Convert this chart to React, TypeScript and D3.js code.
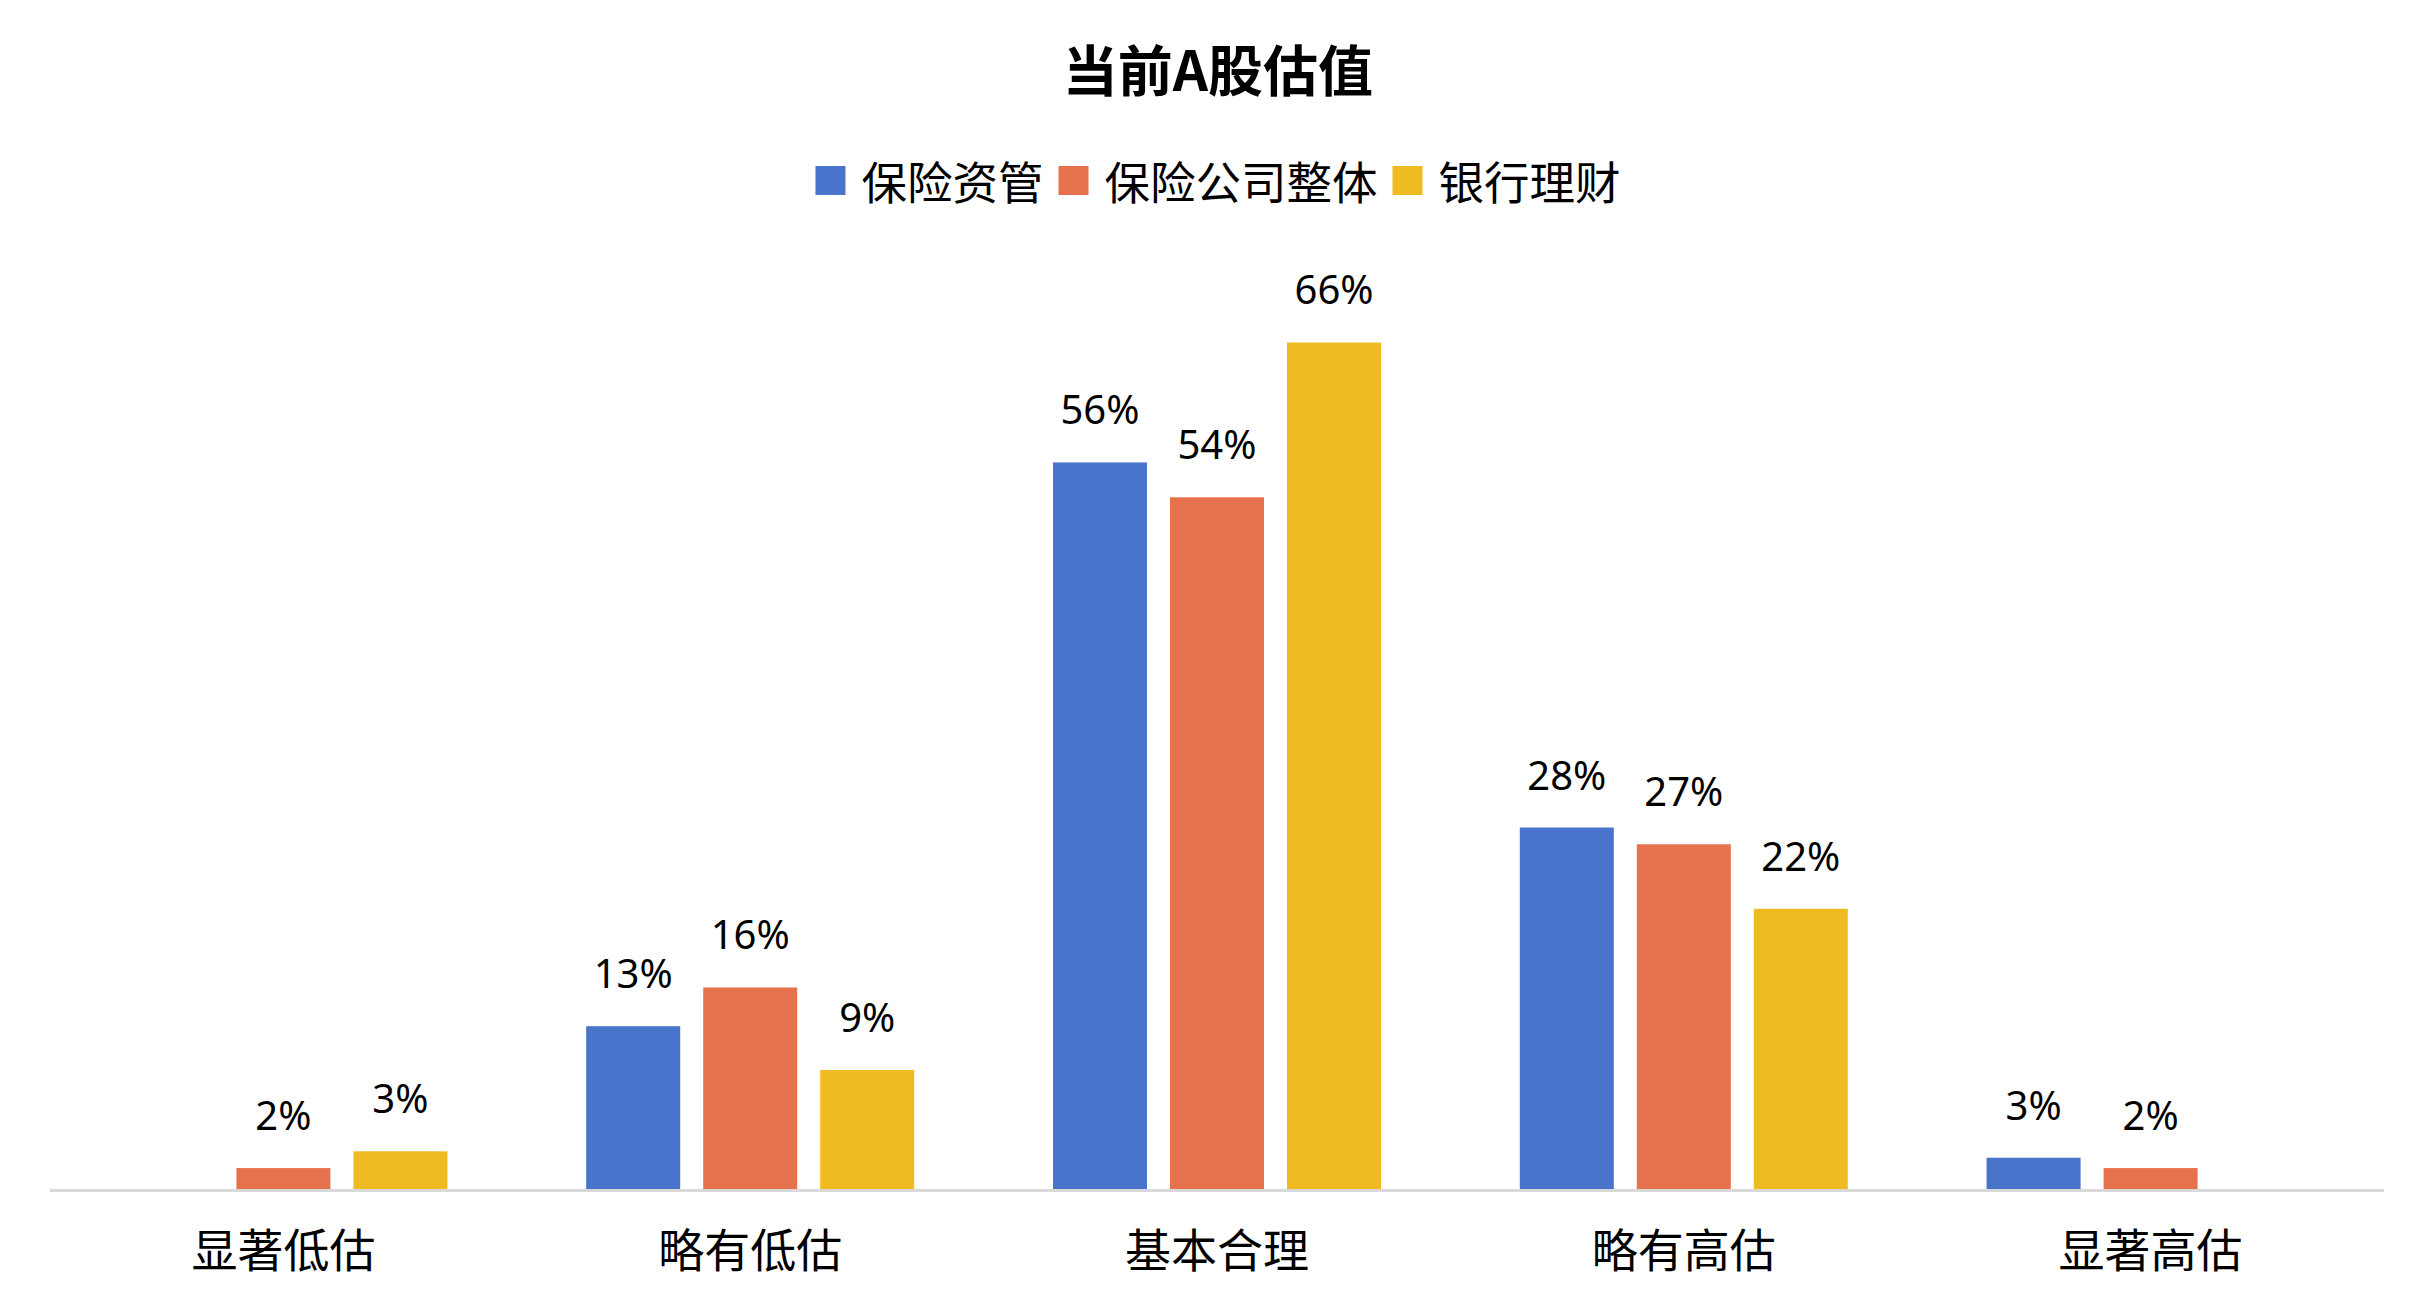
import { useRef, useEffect } from 'react';
import * as d3 from 'd3';

const categories = ['显著低估', '略有低估', '基本合理', '略有高估', '显著高估'];
const seriesNames = ['保险资管', '保险公司整体', '银行理财'];
const insAssetMgmt = [0, 12.7, 56.4, 28.1, 2.5];
const insCompanies = [1.7, 15.7, 53.7, 26.8, 1.7];
const bankWealth = [3.0, 9.3, 65.7, 21.8, 0];
const colors = ['#4874CB', '#E6724D', '#F0BB21'];

const title = '当前A股估值';
const CJK = '"Noto Sans CJK SC", "Noto Sans", sans-serif';
const LATIN = '"Noto Sans", "Open Sans", sans-serif';

export default function App() {
    const ref = useRef<HTMLDivElement>(null);

    useEffect(() => {
        if (!ref.current) return;
        document.body.style.margin = '0';

        const w = 2436;
        const h = 1315;
        const base = 1190;
        d3.select(ref.current).selectAll('*').remove();
        const svg = d3
            .select(ref.current)
            .append('svg')
            .attr('width', w)
            .attr('height', h)
            .style('display', 'block')
            .style('background', '#fff');

        const series = [insAssetMgmt, insCompanies, bankWealth];
        const rows = categories.map((c, i) => ({
            cat: c,
            vals: series.map((s, j) => ({ key: seriesNames[j], v: s[i], idx: j })),
        }));

        const x0 = d3.scaleBand().domain(categories).range([50, 2384]).padding(0);
        const groupW = x0.bandwidth() * 0.7027;
        const x1 = d3.scaleBand().domain(seriesNames).range([0, groupW]).paddingInner(0.1966).paddingOuter(0);
        const y = d3.scaleLinear().domain([0, 70]).range([base, base - 70 * 12.9]);

        // title
        svg
            .append('text')
            .attr('x', 1218)
            .attr('y', 91)
            .attr('text-anchor', 'middle')
            .style('font-family', CJK)
            .style('font-weight', 700)
            .style('font-size', '55px')
            .attr('fill', '#000')
            .text(title);

        // legend
        const legend = svg.append('g');
        let cursor = 0;
        seriesNames.forEach((name, i) => {
            const g = legend.append('g').attr('transform', `translate(${cursor},0)`);
            g.append('rect').attr('x', 0).attr('y', 166).attr('width', 30).attr('height', 29).attr('fill', colors[i]);
            const t = g
                .append('text')
                .attr('x', 46)
                .attr('y', 200)
                .style('font-family', CJK)
                .style('font-size', '45.5px')
                .attr('fill', '#000')
                .text(name);
            const tw = (t.node() as SVGTextElement).getComputedTextLength();
            cursor += 46 + tw + 15;
        });
        const legendW = cursor - 15;
        legend.attr('transform', `translate(${1218 - legendW / 2},0)`);

        // bars
        const groups = svg
            .selectAll('g.grp')
            .data(rows)
            .join('g')
            .attr('class', 'grp')
            .attr('transform', (d) => `translate(${(x0(d.cat) ?? 0) + (x0.bandwidth() - groupW) / 2},0)`);

        groups
            .selectAll('rect')
            .data((d) => d.vals.filter((v) => v.v > 0))
            .join('rect')
            .attr('x', (d) => x1(d.key) ?? 0)
            .attr('y', (d) => y(d.v))
            .attr('width', x1.bandwidth())
            .attr('height', (d) => base - y(d.v))
            .attr('fill', (d) => colors[d.idx]);

        groups
            .selectAll('text')
            .data((d) => d.vals.filter((v) => v.v > 0))
            .join('text')
            .attr('x', (d) => (x1(d.key) ?? 0) + x1.bandwidth() / 2)
            .attr('y', (d) => y(d.v) - 38)
            .attr('text-anchor', 'middle')
            .style('font-family', LATIN)
            .style('font-size', '40px')
            .attr('fill', '#000')
            .text((d) => `${Math.round(d.v)}%`);

        // axis line
        svg
            .append('line')
            .attr('x1', 50)
            .attr('x2', 2384)
            .attr('y1', base + 0.5)
            .attr('y2', base + 0.5)
            .attr('stroke', '#d9d9d9')
            .attr('stroke-width', 3);

        // category labels
        svg
            .append('g')
            .selectAll('text')
            .data(categories)
            .join('text')
            .attr('x', (d) => (x0(d) ?? 0) + x0.bandwidth() / 2)
            .attr('y', 1267)
            .attr('text-anchor', 'middle')
            .style('font-family', CJK)
            .style('font-size', '46px')
            .attr('fill', '#000')
            .text((d) => d);
    }, []);

    return <div ref={ref} />;
}
